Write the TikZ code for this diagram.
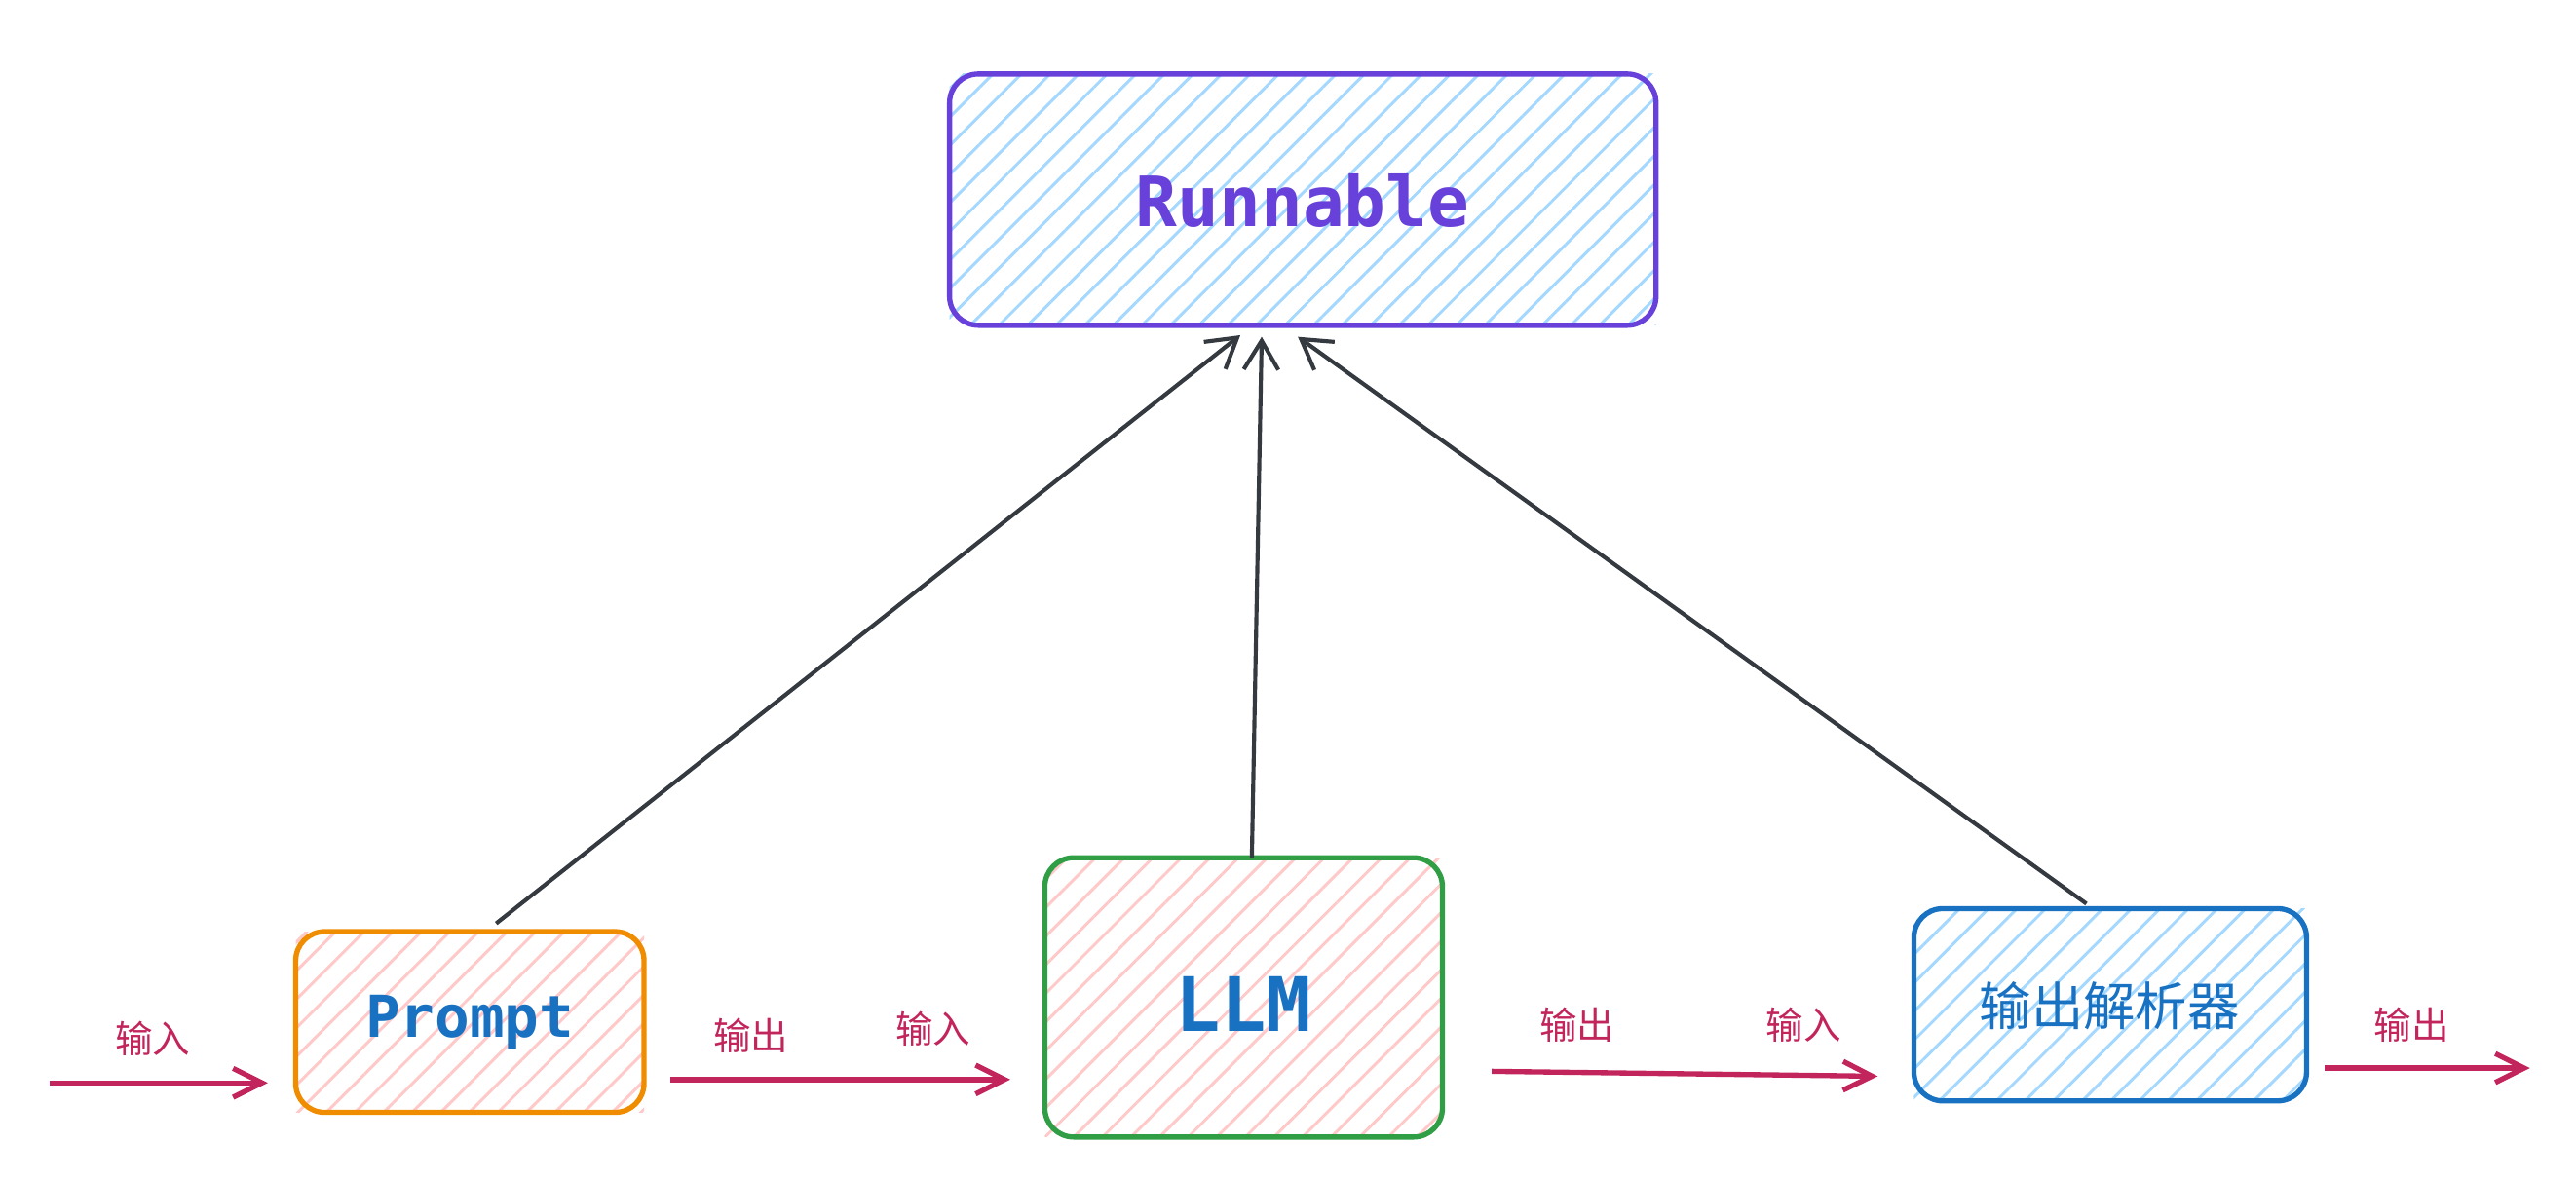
\documentclass[tikz,border=0pt]{standalone}
\usepackage{fontspec}
\setmonofont{DejaVu Sans Mono}
\newfontfamily\cjk{Noto Sans CJK SC}
\usetikzlibrary{patterns.meta,arrows.meta}
\definecolor{purp}{HTML}{6741D9}
\definecolor{lblue}{HTML}{A5D8FF}
\definecolor{lpink}{HTML}{FFC9C9}
\definecolor{orng}{HTML}{F08C00}
\definecolor{grn}{HTML}{2F9E44}
\definecolor{dblue}{HTML}{1971C2}
\definecolor{crim}{HTML}{C2255C}
\definecolor{dark}{HTML}{343A40}
\tikzset{
 hbox/.style={draw=#1,line width=0.9pt,rounded corners=5pt},
 hatchblue/.style={pattern={Lines[angle=45,distance=3.5pt,line width=0.5pt]},pattern color=lblue},
 hatchpink/.style={pattern={Lines[angle=45,distance=3.5pt,line width=0.5pt]},pattern color=lpink},
 upar/.style={draw=dark,line width=0.7pt,-{Straight Barb[length=5pt,width=6pt]}},
 redar/.style={draw=crim,line width=0.9pt,-{Straight Barb[length=5pt,width=5pt]}},
 lab/.style={text=crim,font=\cjk\fontsize{6.5}{7}\selectfont},
}
\begin{document}
\begin{tikzpicture}[x=0.01cm,y=-0.01cm]
\useasboundingbox (0,0) rectangle (1568,719);
\path[hatchblue] (578,45) rectangle (1008,198);
\draw[hbox=purp] (578,45) rectangle (1008,198);
\node (run) at (793,122) {\ttfamily\bfseries\fontsize{12}{14}\selectfont\color{purp}Runnable};
\coordinate (rb1) at (755,204); \coordinate (rb2) at (768,205); \coordinate (rb3) at (790,205);

\path[hatchpink] (180,567) rectangle (392,677);
\draw[hbox=orng] (180,567) rectangle (392,677);
\node (prompt) at (286,622) {\ttfamily\bfseries\fontsize{10}{12}\selectfont\color{dblue}Prompt};

\path[hatchpink] (636,522) rectangle (878,692);
\draw[hbox=grn] (636,522) rectangle (878,692);
\node (llm) at (757,611) {\ttfamily\bfseries\fontsize{13}{15}\selectfont\color{dblue}LLM};

\path[hatchblue] (1165,553) rectangle (1404,670);
\draw[hbox=dblue] (1165,553) rectangle (1404,670);
\node (parser) at (1284,612) {\cjk\fontsize{9}{11}\selectfont\color{dblue}输出解析器};

\coordinate (pt) at (302,562); \coordinate (lt) at (762,522); \coordinate (st) at (1270,550);
\draw[upar] (pt) -- (rb1);
\draw[upar] (lt) -- (rb2);
\draw[upar] (st) -- (rb3);

\coordinate (a0) at (30,659); \coordinate (a1) at (163,659);
\coordinate (b0) at (408,657); \coordinate (b1) at (615,657);
\coordinate (c0) at (908,652); \coordinate (c1) at (1143,655);
\coordinate (d0) at (1415,650); \coordinate (d1) at (1540,650);
\draw[redar] (a0) -- (a1);
\draw[redar] (b0) -- (b1);
\draw[redar] (c0) -- (c1);
\draw[redar] (d0) -- (d1);
\node[lab] (l1) at (93,632) {输入};
\node[lab] (l2) at (457,630) {输出};
\node[lab] (l3) at (568,626) {输入};
\node[lab] (l4) at (960,624) {输出};
\node[lab] (l5) at (1098,624) {输入};
\node[lab] (l6) at (1468,624) {输出};
\end{tikzpicture}
\end{document}
